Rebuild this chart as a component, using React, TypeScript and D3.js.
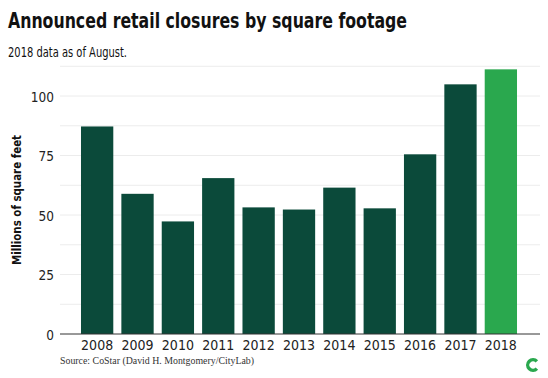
import React from "react";
import * as d3 from "d3";

const years = ["2008","2009","2010","2011","2012","2013","2014","2015","2016","2017","2018"];
const values = [87.2, 58.9, 47.3, 65.5, 53.2, 52.3, 61.5, 52.8, 75.5, 104.9, 111.2];
const yTicks = [0, 25, 50, 75, 100];
const gridValues = [12.5, 25, 37.5, 50, 62.5, 75, 87.5, 100, 112.5];

const W = 548, H = 378;
const condensed = "'DejaVu Sans Condensed', 'DejaVu Sans', sans-serif";

export default function App() {
  const x = d3.scaleBand<string>().domain(years).range([60, 538]).paddingInner(0.2).paddingOuter(0.52);
  const y = d3.scaleLinear().domain([0, 112.5]).range([334, 66.25]);
  const logo = d3.arc()({ innerRadius: 3.6, outerRadius: 7, startAngle: Math.PI / 2 + 0.75, endAngle: Math.PI / 2 + 2 * Math.PI - 0.75 }) as string;
  return (
    <svg width={W} height={H} style={{ position: "absolute", left: 0, top: 0, background: "#fff" }}>
      <text x={8} y={28} fontFamily={condensed} fontWeight="bold" fontSize={21.5} textLength={399} lengthAdjust="spacingAndGlyphs" fill="#111">Announced retail closures by square footage</text>
      <text x={8} y={57} fontFamily={condensed} fontSize={13.5} textLength={119} lengthAdjust="spacingAndGlyphs" fill="#111">2018 data as of August.</text>
      {gridValues.map(v => (
        <line key={v} x1={60} x2={540} y1={y(v)} y2={y(v)} stroke="#ececec" strokeWidth={1} />
      ))}
      {years.map((yr, i) => (
        <rect key={yr} x={x(yr)} y={y(values[i])} width={x.bandwidth()} height={y(0) - y(values[i])}
          fill={yr === "2018" ? "#2aa84e" : "#0b4a3a"} />
      ))}
      <line x1={60} x2={540} y1={y(0)} y2={y(0)} stroke="#333" strokeWidth={1} />
      {yTicks.map(v => (
        <text key={v} x={54} y={y(v) + 5.5} textAnchor="end" fontFamily={condensed} fontSize={13.5} fill="#222">{v}</text>
      ))}
      {years.map(yr => (
        <text key={yr} x={(x(yr) as number) + x.bandwidth() / 2} y={350} textAnchor="middle" fontFamily={condensed} fontSize={14} fill="#222">{yr}</text>
      ))}
      <text transform={`translate(20.5,200) rotate(-90)`} textAnchor="middle" fontFamily={condensed} fontWeight="bold" fontSize={13} textLength={130} lengthAdjust="spacingAndGlyphs" fill="#111">Millions of square feet</text>
      <text x={60} y={364} fontFamily="'Liberation Serif', 'DejaVu Serif', serif" fontSize={10.5} textLength={194} lengthAdjust="spacingAndGlyphs" fill="#333">Source: CoStar (David H. Montgomery/CityLab)</text>
      <path d={logo} transform="translate(533,365)" fill="#2aa84e" />
    </svg>
  );
}
